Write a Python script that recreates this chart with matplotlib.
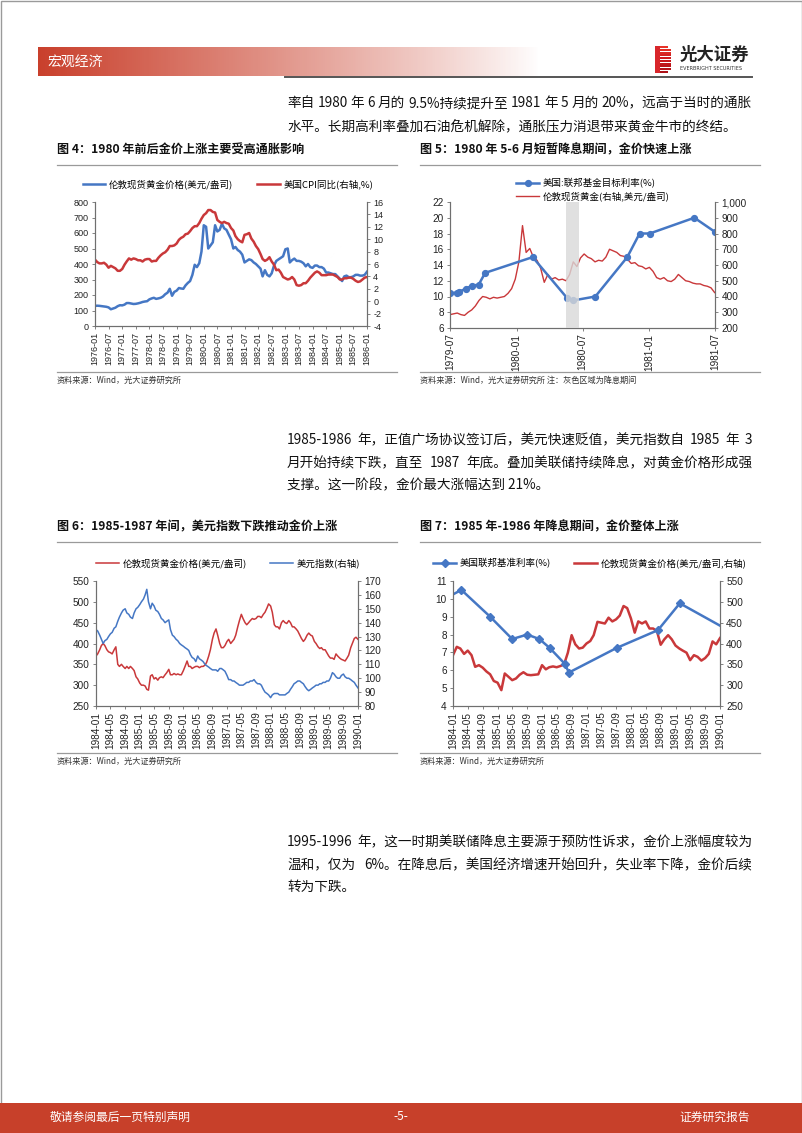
import matplotlib
matplotlib.use('Agg')
import matplotlib.pyplot as plt
import matplotlib.dates as mdates
import numpy as np
import pandas as pd
from matplotlib.patches import Rectangle

plt.rcParams['font.family'] = ['Noto Sans CJK SC', 'DejaVu Sans']
plt.rcParams['axes.unicode_minus'] = False

W, H = 802, 1133
BLUE = '#4577C4'
RED = '#C9383A'
TICK_FONT = ['Liberation Sans', 'DejaVu Sans']

# ---------------- data ----------------
# fig 4: monthly 1976-01 .. 1986-01
fig4_gold = [130, 131, 130, 128, 126, 124, 120, 108, 113, 118, 128, 134,
             133, 138, 148, 148, 145, 142, 143, 146, 150, 155, 158, 160,
             172, 178, 182, 175, 178, 182, 190, 205, 215, 240, 195, 220,
             228, 245, 242, 240, 262, 278, 290, 330, 395, 380, 405, 480,
             650, 640, 500, 520, 540, 650, 610, 620, 660, 630, 620, 590,
             560, 500, 510, 490, 480, 460, 410, 420, 430, 425, 410, 400,
             385, 370, 320, 360, 330, 320, 340, 390, 420, 430, 440, 450,
             495, 500, 410, 425, 435, 420, 420, 415, 405, 385, 400, 380,
             375, 390, 390, 380, 380, 370, 345, 345, 340, 335, 335, 320,
             305, 290, 320, 325, 315, 315, 320, 330, 330, 325, 325, 330,
             350]
fig4_cpi = [6.7, 6.3, 6.1, 6.1, 6.2, 5.9, 5.4, 5.7, 5.5, 5.3, 4.9, 4.9,
            5.2, 5.9, 6.4, 6.9, 6.7, 6.9, 6.8, 6.6, 6.6, 6.4, 6.7, 6.8,
            6.8, 6.4, 6.5, 6.5, 7.0, 7.4, 7.7, 7.9, 8.3, 8.9, 8.9, 9.0,
            9.3, 9.9, 10.2, 10.4, 10.8, 10.9, 11.3, 11.8, 12.1, 12.1, 12.6, 13.3,
            13.9, 14.2, 14.7, 14.7, 14.4, 14.3, 13.1, 12.8, 12.6, 12.8, 12.6, 12.5,
            11.8, 11.4, 10.5, 10.0, 9.7, 9.5, 10.7, 10.8, 11.0, 10.1, 9.6, 8.9,
            8.4, 7.6, 6.8, 6.5, 6.7, 7.1, 6.4, 5.9, 5.0, 5.1, 4.6, 3.9,
            3.7, 3.5, 3.6, 3.9, 3.5, 2.6, 2.5, 2.6, 2.9, 2.9, 3.3, 3.8,
            4.2, 4.6, 4.8, 4.6, 4.2, 4.2, 4.2, 4.3, 4.3, 4.3, 4.1, 3.9,
            3.5, 3.5, 3.7, 3.7, 3.8, 3.8, 3.6, 3.3, 3.1, 3.2, 3.5, 3.8,
            3.9]

# fig 5: fed funds target and gold (10-day steps from 1979-07-01)
fig5_fed_dates = ['1979-07-01', '1979-07-20', '1979-07-27', '1979-08-14', '1979-08-30',
                  '1979-09-18', '1979-10-06', '1980-02-14', '1980-05-20', '1980-06-05',
                  '1980-08-05', '1980-11-01', '1980-12-05', '1981-01-02', '1981-05-05',
                  '1981-07-01']
fig5_fed = [10.4, 10.5, 10.625, 11.0, 11.375, 11.5, 13.0, 15.0, 9.75, 9.5,
            10.0, 15.0, 18.0, 18.0, 20.0, 18.2]
fig5_gold = [285, 290, 295, 285, 280, 300, 315, 340, 375, 400,
             395, 385, 395, 390, 395, 400, 420, 450, 510, 620,
             850, 680, 705, 650, 630, 580, 490, 540, 510, 520,
             505, 510, 500, 540, 620, 590, 645, 670, 650, 640,
             620, 630, 625, 650, 700, 690, 680, 660, 655, 635,
             610, 615, 595, 590, 575, 585, 560, 520, 510, 520,
             500, 495, 510, 540, 520, 500, 495, 485, 480, 480,
             470, 465, 455, 425]
fig5_cut = ('1980-05-15', '1980-06-20')

# fig 6: semi-monthly 1984-01 .. 1990-01
fig6_gold = [370, 375, 385, 395, 400, 395, 385, 380, 378, 375, 385, 392,
             350, 345, 350, 345, 340, 345, 340, 345, 340, 335, 320, 315,
             305, 300, 300, 298, 290, 288, 322, 325, 315, 318, 312, 318,
             320, 318, 325, 330, 338, 325, 325, 328, 325, 327, 325, 325,
             335, 345, 358, 345, 345, 340, 343, 345, 345, 342, 345, 345,
             348, 355, 370, 385, 410, 425, 435, 420, 400, 390, 390, 395,
             405, 410, 400, 405, 410, 420, 440, 455, 470, 460, 450, 445,
             450, 455, 460, 458, 460, 465, 465, 462, 470, 475, 485, 495,
             490, 475, 445, 440, 440, 435, 450, 455, 450, 448, 455, 450,
             440, 440, 435, 430, 420, 412, 405, 410, 420, 425, 420, 418,
             405, 400, 392, 388, 390, 385, 385, 378, 370, 365, 365, 362,
             375, 370, 365, 362, 360, 358, 365, 372, 390, 400, 412, 415,
             410]
fig6_dxy = [135, 134, 131, 128, 125, 127, 128, 130, 132, 133, 136, 137,
            141, 144, 147, 149, 150, 147, 146, 144, 143, 147, 150, 151,
            153, 155, 157, 160, 164, 155, 150, 154, 152, 149, 148, 146,
            143, 142, 140, 141, 142, 135, 131, 130, 128, 127, 125, 124,
            123, 122, 121, 120, 117, 115, 114, 112, 116, 114, 113, 112,
            110, 109, 108, 107, 106, 106, 106, 105, 107, 107, 106, 105,
            102, 99, 99, 98, 98, 97, 96, 95, 95, 95, 96, 97,
            97, 98, 98, 99, 97, 96, 96, 95, 92, 90, 89, 88,
            86, 88, 89, 89, 89, 88, 88, 88, 88, 89, 90, 92,
            94, 96, 97, 98, 98, 97, 96, 94, 92, 91, 92, 93,
            94, 95, 95, 96, 96, 97, 97, 98, 98, 100, 104, 103,
            101, 100, 100, 102, 103, 101, 100, 100, 99, 98, 97, 95,
            93]

# fig 7: fed funds rate and monthly gold 1984-01 .. 1990-01
fig7_fed_dates = ['1984-01-01', '1984-03-10', '1984-11-01', '1985-05-01', '1985-09-01',
                  '1985-12-10', '1986-03-05', '1986-07-05', '1986-08-10', '1987-09-05',
                  '1988-08-10', '1989-02-05', '1990-01-01']
fig7_fed = [10.25, 10.5, 9.0, 7.75, 8.0, 7.75, 7.25, 6.375, 5.875, 7.25, 8.25, 9.75, 8.5]
fig7_gold = [372, 392, 388, 375, 383, 372, 344, 348, 342, 333, 326, 310,
             306, 288, 328, 320, 312, 316, 325, 331, 325, 324, 325, 326,
             348, 338, 343, 345, 343, 346, 350, 378, 420, 398, 388, 390,
             400, 406, 420, 452, 450, 448, 462, 453, 458, 467, 490, 485,
             460, 426, 453, 448, 453, 436, 436, 430, 397, 410, 420, 410,
             395, 388, 383, 378, 360, 372, 368, 359, 365, 375, 405, 398,
             413]

para1 = ['率自 1980 年 6 月的 9.5%持续提升至 1981 年 5 月的 20%，远高于当时的通胀',
         '水平。长期高利率叠加石油危机解除，通胀压力消退带来黄金牛市的终结。']
para2 = ['1985-1986 年，正值广场协议签订后，美元快速贬值，美元指数自 1985 年 3',
         '月开始持续下跌，直至 1987 年底。叠加美联储持续降息，对黄金价格形成强',
         '支撑。这一阶段，金价最大涨幅达到 21%。']
para3 = ['1995-1996 年，这一时期美联储降息主要源于预防性诉求，金价上涨幅度较为',
         '温和，仅为 6%。在降息后，美国经济增速开始回升，失业率下降，金价后续',
         '转为下跌。']

# ---------------- page ----------------
fig = plt.figure(figsize=(W / 100, H / 100), dpi=100)
renderer = fig.canvas.get_renderer()
page = fig.add_axes([0, 0, 1, 1], zorder=0)
page.set_autoscale_on(False)
page.set_xlim(0, W)
page.set_ylim(H, 0)
page.axis('off')

# header band with gradient
xs = np.linspace(0, 1, 400)
alpha = np.clip(1 - xs, 0, 1) ** 0.9
grad = np.ones((1, 400, 4))
grad[..., 0] = 0.79
grad[..., 1] = 0.25
grad[..., 2] = 0.17
grad[..., 3] = alpha
page.imshow(grad, extent=[38, 540, 76, 47], aspect='auto', interpolation='bilinear', zorder=1)
page.text(47, 62, '宏观经济', color='white', fontsize=10, va='center', zorder=2)
page.plot([285, 752], [77, 77], color='#555555', lw=1.4)

# logo
stripe_cols = plt.cm.Reds(np.linspace(0.65, 0.85, 10))
for i, yy in enumerate(np.linspace(46, 71, 10)):
    w = 16 if i not in (0, 9) else 13
    page.add_patch(Rectangle((655, yy), w, 2.0, color=stripe_cols[i], lw=0))
page.add_patch(Rectangle((655, 46), 5, 27, color='#D8262B', lw=0))
page.text(680, 55, '光大证券', fontsize=12.5, fontweight='bold', va='center', color='#222222')
page.text(680, 68.5, 'EVERBRIGHT SECURITIES', fontsize=3.5, va='center', color='#333333',
          family=['DejaVu Sans'])

# page border
page.add_patch(Rectangle((0.5, 0.5), W - 1, H - 1, fill=False, ec='#9a9a9a', lw=1))

# footer
page.add_patch(Rectangle((0, 1103), W, 30, color='#C7402A', lw=0))
page.text(50, 1117, '敬请参阅最后一页特别声明', color='white', fontsize=8.5, va='center')
page.text(401, 1117, '-5-', color='white', fontsize=8.5, va='center', ha='center')
page.text(750, 1117, '证券研究报告', color='white', fontsize=8.5, va='center', ha='right')


def put_line(s, y, justify, x0=287, x1=752):
    kw = dict(fontsize=9.8, va='center', color='#111111')
    if not justify:
        page.text(x0, y, s, **kw)
        return
    segs = s.split(' ')
    texts = [page.text(0, y, seg, **kw) for seg in segs]
    widths = [t.get_window_extent(renderer).width for t in texts]
    gap = (x1 - x0 - sum(widths)) / (len(segs) - 1)
    x = x0
    for t, w in zip(texts, widths):
        t.set_x(x)
        x += w + gap


# paragraphs (all lines but the last are justified)
for lines, ys in ((para1, (103, 127)), (para2, (440, 463, 485)), (para3, (842, 865, 887))):
    for i, (s, yy) in enumerate(zip(lines, ys)):
        put_line(s, yy, i < len(lines) - 1)

# figure titles, rules and sources
titles = [('图 4：1980 年前后金价上涨主要受高通胀影响', 57, 150),
          ('图 5：1980 年 5-6 月短暂降息期间，金价快速上涨', 420, 150),
          ('图 6：1985-1987 年间，美元指数下跌推动金价上涨', 57, 527),
          ('图 7：1985 年-1986 年降息期间，金价整体上涨', 420, 527)]
for s, x0, yy in titles:
    page.text(x0, yy, s, fontsize=8.7, fontweight='bold', va='center', color='#111111')
    page.plot([x0, x0 + 340], [yy + 15, yy + 15], color='#9a9a9a', lw=0.9)

sources = [('资料来源：Wind，光大证券研究所', 57, 372),
           ('资料来源：Wind，光大证券研究所 注：灰色区域为降息期间', 420, 372),
           ('资料来源：Wind，光大证券研究所', 57, 753),
           ('资料来源：Wind，光大证券研究所', 420, 753)]
for s, x0, yy in sources:
    page.plot([x0, x0 + 340], [yy, yy], color='#9a9a9a', lw=0.9)
    page.text(x0, yy + 8, s, fontsize=5.9, va='center', color='#333333')


def make_ax(x0, y0, x1, y1):
    return fig.add_axes([x0 / W, 1 - y1 / H, (x1 - x0) / W, (y1 - y0) / H], zorder=2)


def style(ax, ax2, fs):
    for a in (ax, ax2):
        a.spines['top'].set_visible(False)
        for sp in ('left', 'right', 'bottom'):
            a.spines[sp].set_color('#6f6f6f')
            a.spines[sp].set_linewidth(0.8)
        a.tick_params(direction='out', length=2.5, width=0.6, labelsize=fs,
                      colors='#6f6f6f', labelcolor='#222222')
        for lab in a.get_xticklabels() + a.get_yticklabels():
            lab.set_family(TICK_FONT)
    ax.tick_params(axis='x', rotation=90, pad=1.5)
    ax.tick_params(axis='y', pad=2)
    ax2.tick_params(axis='y', pad=2)


def legend(ax, handles, labels, xc, yc, ncol, fs=6.8):
    ax.legend(handles, labels, loc='center', bbox_to_anchor=(xc / W, 1 - yc / H),
              bbox_transform=fig.transFigure, ncol=ncol, frameon=False, fontsize=fs,
              handlelength=2.4, columnspacing=2.5, handletextpad=0.4, labelspacing=0.35)


# ---------------- fig 4 ----------------
d4 = pd.date_range('1976-01-01', periods=len(fig4_gold), freq='MS')
ax = make_ax(95, 202, 367, 326)
ax2 = ax.twinx()
l1, = ax.plot(d4, fig4_gold, color=BLUE, lw=1.8)
l2, = ax2.plot(d4, fig4_cpi, color=RED, lw=1.8)
ax.set_ylim(0, 800)
ax.set_yticks(range(0, 801, 100))
ax2.set_ylim(-4, 16)
ax2.set_yticks(range(-4, 17, 2))
ax.set_xlim(d4[0], d4[-1])
ax.set_xticks(d4[::6])
ax.xaxis.set_major_formatter(mdates.DateFormatter('%Y-%m'))
style(ax, ax2, 6.5)
legend(ax, [l1, l2], ['伦敦现货黄金价格(美元/盎司)', '美国CPI同比(右轴,%)'], 228, 184, 2)

# ---------------- fig 5 ----------------
ax = make_ax(450, 202, 715, 328)
ax2 = ax.twinx()
ax.set_zorder(ax2.get_zorder() + 1)
ax.patch.set_visible(False)
d5 = pd.date_range('1979-07-01', periods=len(fig5_gold), freq='10D')
l2, = ax2.plot(d5, fig5_gold, color=RED, lw=1.0)
l1, = ax.plot(pd.to_datetime(fig5_fed_dates), fig5_fed, color=BLUE, lw=1.8,
              marker='o', ms=4.2)
ax.axvspan(pd.Timestamp(fig5_cut[0]), pd.Timestamp(fig5_cut[1]), color='#D9D9D9',
           alpha=0.8, lw=0, zorder=5)
ax.set_ylim(6, 22)
ax.set_yticks(range(6, 23, 2))
ax2.set_ylim(200, 1000)
ax2.set_yticks(range(200, 1001, 100))
ax2.set_yticklabels([f'{v:,}' for v in range(200, 1001, 100)])
ax.set_xlim(pd.Timestamp('1979-07-01'), pd.Timestamp('1981-07-01'))
ax.set_xticks(pd.to_datetime(['1979-07-01', '1980-01-01', '1980-07-01',
                              '1981-01-01', '1981-07-01']))
ax.xaxis.set_major_formatter(mdates.DateFormatter('%Y-%m'))
style(ax, ax2, 7.2)
legend(ax, [l1, l2], ['美国:联邦基金目标利率(%)', '伦敦现货黄金(右轴,美元/盎司)'], 593, 190, 1)

# ---------------- fig 6 ----------------
d6 = pd.date_range('1984-01-01', '1990-01-01', freq='SMS')
ax = make_ax(96, 581, 358, 706)
ax2 = ax.twinx()
l1, = ax.plot(d6, fig6_gold, color=RED, lw=1.1)
l2, = ax2.plot(d6, fig6_dxy, color=BLUE, lw=1.1)
ax.set_ylim(250, 550)
ax.set_yticks(range(250, 551, 50))
ax2.set_ylim(80, 170)
ax2.set_yticks(range(80, 171, 10))
ax.set_xlim(pd.Timestamp('1984-01-01'), pd.Timestamp('1990-01-01'))
ax.set_xticks(pd.date_range('1984-01-01', '1990-01-01', freq='4MS'))
ax.xaxis.set_major_formatter(mdates.DateFormatter('%Y-%m'))
style(ax, ax2, 7.2)
legend(ax, [l1, l2], ['伦敦现货黄金价格(美元/盎司)', '美元指数(右轴)'], 228, 563, 2)

# ---------------- fig 7 ----------------
d7 = pd.date_range('1984-01-01', periods=len(fig7_gold), freq='MS')
ax = make_ax(453, 581, 720, 706)
ax2 = ax.twinx()
ax.set_zorder(ax2.get_zorder() + 1)
ax.patch.set_visible(False)
l2, = ax2.plot(d7, fig7_gold, color=RED, lw=1.8)
l1, = ax.plot(pd.to_datetime(fig7_fed_dates), fig7_fed, color=BLUE, lw=1.8,
              marker='D', ms=3.8, markevery=list(range(1, len(fig7_fed) - 1)))
ax.set_ylim(4, 11)
ax.set_yticks(range(4, 12))
ax2.set_ylim(250, 550)
ax2.set_yticks(range(250, 551, 50))
ax.set_xlim(pd.Timestamp('1984-01-01'), pd.Timestamp('1990-01-01'))
ax.set_xticks(pd.date_range('1984-01-01', '1990-01-01', freq='4MS'))
ax.xaxis.set_major_formatter(mdates.DateFormatter('%Y-%m'))
style(ax, ax2, 7.2)
legend(ax, [l1, l2], ['美国联邦基准利率(%)', '伦敦现货黄金价格(美元/盎司,右轴)'], 590, 563, 2)

fig.savefig('out.png', dpi=100)
